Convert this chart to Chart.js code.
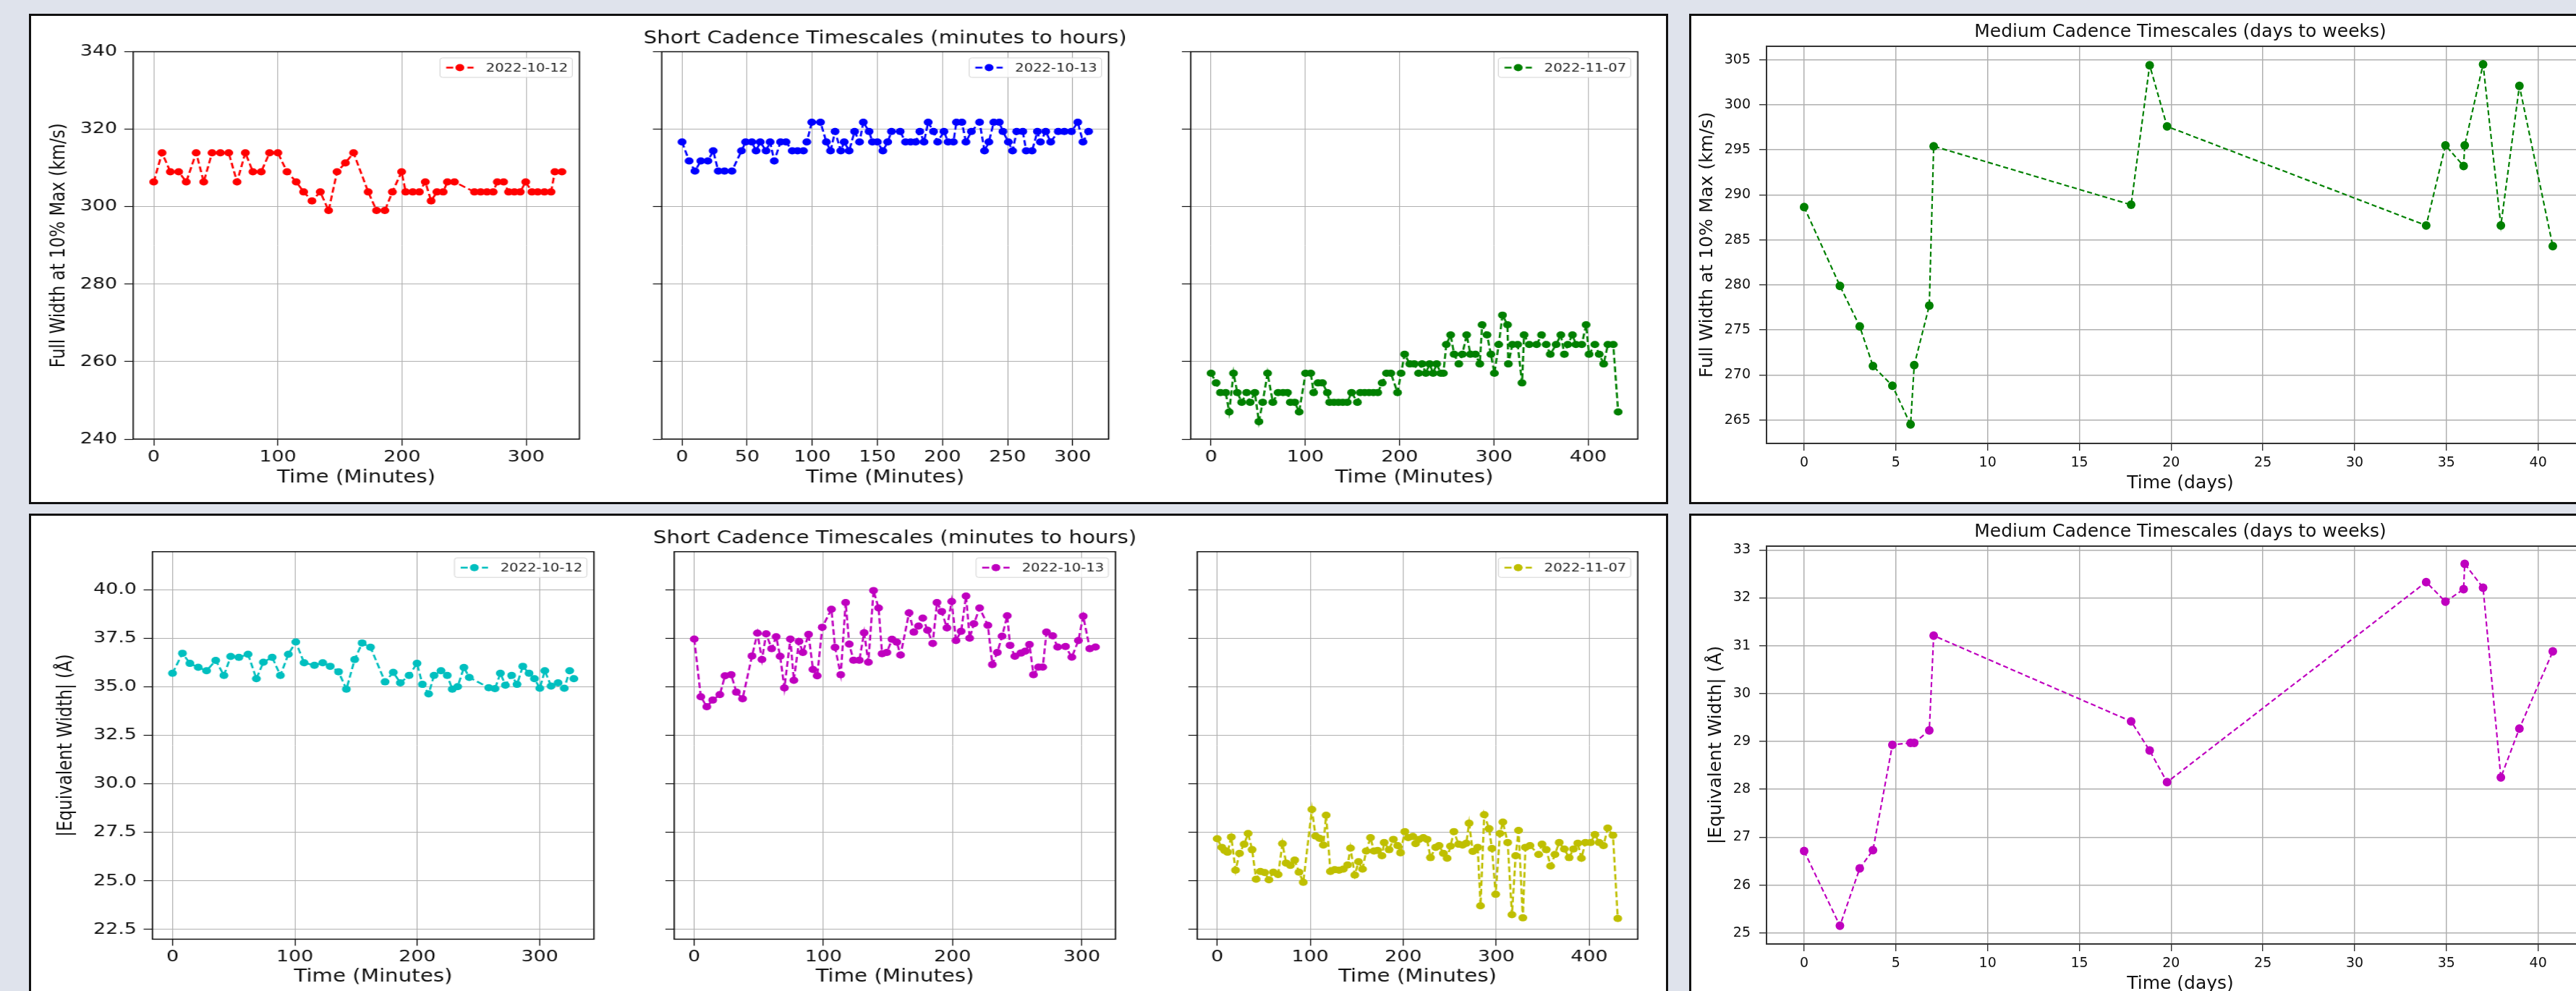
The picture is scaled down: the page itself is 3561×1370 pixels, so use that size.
<!DOCTYPE html>
<html><head><meta charset="utf-8">
<script src="https://cdn.jsdelivr.net/npm/chart.js@4.4.1/dist/chart.umd.min.js"></script>
<style>
html,body{margin:0;padding:0;width:3561px;height:1370px;overflow:hidden;background:#dfe3ec;position:relative;}
.panel{position:absolute;background:#fff;border:3px solid #111;box-sizing:border-box;}
.wrap{position:absolute;transform-origin:0 0;}
canvas{display:block;}
</style></head><body>
<div class="panel" style="left:40px;top:19px;width:2266px;height:678px"></div>
<div class="panel" style="left:40px;top:710px;width:2266px;height:720px"></div>
<div class="panel" style="left:2335px;top:19px;width:1320px;height:678px"></div>
<div class="panel" style="left:2335px;top:710px;width:1320px;height:720px"></div>
<script>
// ---------- labels ----------
const dates = ['2022-10-12', '2022-10-13', '2022-11-07'];
const shortTitle = 'Short Cadence Timescales (minutes to hours)';
const mediumTitle = 'Medium Cadence Timescales (days to weeks)';
const fwLabel = 'Full Width at 10% Max (km/s)';
const ewLabel = '|Equivalent Width| (Å)';
const minLabel = 'Time (Minutes)';
const dayLabel = 'Time (days)';

// ---------- tick values ----------
const fwTicks = [240, 260, 280, 300, 320, 340];
const ewTicks = [22.5, 25.0, 27.5, 30.0, 32.5, 35.0, 37.5, 40.0];
const minTicks300 = [0, 100, 200, 300];
const minTicks50 = [0, 50, 100, 150, 200, 250, 300];
const minTicks400 = [0, 100, 200, 300, 400];
const dayTicks = [0, 5, 10, 15, 20, 25, 30, 35, 40];
const medFwTicks = [265, 270, 275, 280, 285, 290, 295, 300, 305];
const medEwTicks = [25, 26, 27, 28, 29, 30, 31, 32, 33];

// ---------- short cadence: FW10%M ----------
const tFw1012 = [0,6.7,13.4,20.1,26.2,34.2,40.3,47,53.7,60.4,67.1,73.8,79.9,86.6,93.3,100,107.4,114.8,120.8,127.5,134.2,140.9,147.7,154.4,161,172.8,179.5,186.2,192.3,199.7,203,208.7,214,218.8,223.5,228.2,233.2,236.6,242.3,258.4,263.4,268.5,273.5,276.8,281.9,285.9,290.6,295.3,299.7,304.7,309.4,314.8,320.1,323.2,328.9];
const fw1012 = [306.4,313.9,309,309,306.4,313.9,306.4,313.9,313.9,313.9,306.4,313.9,309,309,313.9,313.9,309,306.4,303.8,301.5,303.8,299,309,311.3,313.9,303.8,299,299,303.8,309,303.8,303.8,303.8,306.4,301.5,303.8,303.8,306.4,306.4,303.8,303.8,303.8,303.8,306.4,306.4,303.8,303.8,303.8,306.4,303.8,303.8,303.8,303.8,309,309];

const tFw1013 = [0,5.4,9.9,14.4,19.8,23.9,27.8,32.6,38.3,45.6,48.8,53.6,56.8,60,64.5,67.6,70.8,75.6,79.8,84.6,88.7,93.2,95.8,99.6,106.3,110.8,114,117.5,121.9,124.5,128.3,132.5,136.3,139.2,143.6,146.2,150,154.2,157.9,160.8,167.5,171.6,175.5,179.4,182.6,185.8,189,193.1,196.3,201.1,204.3,208.4,210.7,214.9,218,222.2,228.5,232.3,235.6,239.4,243.6,246.4,250.6,253.8,257,261.7,264.3,268.8,272.9,275.2,279.3,283.1,288.9,293.6,299.1,303.9,307.9,312.2];
const fw1013 = [316.7,311.8,309.2,311.8,311.8,314.4,309.2,309.2,309.2,314.4,316.7,316.7,314.4,316.7,314.4,316.7,311.8,316.7,316.7,314.4,314.4,314.4,316.7,321.8,321.8,316.7,314.4,319.4,314.4,316.7,314.4,319.4,316.7,321.8,319.4,316.7,316.7,314.4,316.7,319.4,319.4,316.7,316.7,316.7,319.4,316.7,321.8,319.4,316.7,319.4,316.7,316.7,321.8,321.8,316.7,319.4,321.8,314.4,316.7,321.8,321.8,319.4,316.7,314.4,319.4,319.4,314.4,314.4,319.4,316.7,319.4,316.7,319.4,319.4,319.4,321.8,316.7,319.4];

const tFw1107 = [0,5.3,9.9,15.5,19.2,23.8,27.8,32.5,37.7,41.4,46.4,50.7,54.7,59.9,65.5,71.1,76.4,81,84.1,88.7,93.4,100.2,105.7,108.8,113.4,118.1,123.3,125.8,130.4,135.1,139.7,144.4,149,155.2,158.3,162.9,167.5,172.2,176.8,181.5,186.1,190.7,197.8,201.5,205.3,210.8,215.5,220.1,223.8,227.8,231.8,235.5,239.3,243.6,246.4,249.5,254.1,257.8,262.8,266.5,271.1,275.1,280.4,285,287.5,292.7,296.8,300.5,305.1,309.1,314.4,315.3,319.6,325.2,329.8,332,337.5,345.3,350.5,355.5,359.8,366,371,374.7,378.4,383.3,387,393.2,397.8,400.9,407.1,411.7,416.4,420.9,426.6,431.8];
const fw1107 = [257,254.5,252,252,247,257,252,249.5,252,249.5,252,244.5,249.5,257,249.5,252,252,252,249.5,249.5,247,257,257,252,254.5,254.5,252,249.5,249.5,249.5,249.5,249.5,252,249.5,252,252,252,252,252,254.5,257,257,252,257,261.9,259.4,259.4,257,259.4,257,259.4,257,259.4,257,257,264.4,266.9,261.9,259.4,261.9,266.9,261.9,261.9,259.4,269.5,266.9,261.9,257,264.4,272,269.5,259.4,264.4,264.4,254.5,266.9,264.4,264.4,266.9,264.4,261.9,264.4,266.9,261.9,264.4,266.9,264.4,264.4,269.5,261.9,264.4,261.9,259.4,264.4,264.4,247];

// ---------- short cadence: |EW| ----------
const tEw1012 = [0,8.1,14.2,21,27.8,35.3,42,47.5,54.2,61.7,68.5,74.2,81.4,88.1,94.6,100.7,107.5,115.9,122.7,128.8,135.6,142,148.8,154.9,161.7,173.6,180.3,186.1,193.2,199.7,204.1,209.2,213.6,219.3,224.4,228.5,232.9,238,242.4,258.3,263.4,267.8,271.9,277,281.4,286.1,291.2,295.6,300,304.1,309.2,314.9,320,324.4,327.8];
const ew1012 = [35.69,36.72,36.2,36.0,35.82,36.35,35.58,36.56,36.51,36.67,35.41,36.26,36.51,35.58,36.67,37.3,36.23,36.1,36.23,36.05,35.77,34.87,36.4,37.25,37.03,35.25,35.74,35.2,35.58,36.2,35.12,34.63,35.58,35.82,35.58,34.87,35.0,35.99,35.48,34.95,34.9,35.69,35.08,35.58,35.12,36.05,35.69,35.41,34.92,35.82,35.03,35.2,34.92,35.82,35.41];

const tEw1013 = [0,5.1,9.7,14.3,19.8,23.8,28.6,32.6,37.4,44.7,48.9,52.4,55.7,59.9,63.4,66.5,69.8,74.4,77.1,81.1,84.1,88.5,91.9,95.2,99.1,106.2,109,113.4,117.2,120,123.3,127.8,131.5,134.8,138.8,142.7,145.4,149.1,153.1,156.8,159.7,166.3,170,173.6,176.9,180.6,184.6,187.9,191.6,195.6,199.3,202.6,206.6,210.4,213.2,216.5,220.9,227.3,230.8,234.6,238.3,242.3,244.5,248.2,252.9,256.2,259.5,262.6,266.5,269.8,272.7,277.5,281.3,287.4,292.3,297.4,301.1,306.2,310.6];
const ew1013 = [37.45,34.48,33.97,34.31,34.59,35.56,35.62,34.72,34.38,36.58,37.76,36.4,37.72,36.96,37.57,36.57,34.94,37.45,35.33,37.33,36.76,37.69,35.89,35.56,38.06,38.99,37.02,35.62,39.33,37.19,36.36,36.36,37.78,36.26,39.95,39.05,36.7,36.76,37.44,37.29,36.63,38.8,37.81,38.12,38.53,37.91,37.23,39.33,38.87,38.03,39.39,37.38,37.85,39.67,37.5,38.24,39.05,38.16,36.14,36.76,37.6,38.65,37.13,36.57,36.73,36.83,37.17,35.62,36.01,36.01,37.81,37.62,37.04,37.07,36.52,37.38,38.63,36.96,37.04];

const tEw1107 = [0,4.9,8,11.1,15.1,19.7,24,28.9,33.2,37.5,41.8,46.4,51,55.6,60.3,65.5,70.1,74.1,78.7,83.3,87.9,92.5,101.8,105.7,110.1,114.1,117.1,121.7,126.3,131,135.6,140.2,143.3,147.9,151.9,156.2,160.2,164.8,168.5,172.5,177.1,179.5,184.8,189.4,194,197.1,201.7,205.3,210.3,213.3,217,221.6,225.6,229.3,234.9,238.5,243.2,247.2,250.8,254.5,259.5,263.8,267.8,270.8,274.8,280.1,283.1,287.1,292.3,295.4,299.4,304,307.1,312.3,316.9,320.9,324,328.6,331.4,336.3,345.6,349.2,353.8,358.5,363.1,367.7,373.2,378.4,383,387.7,391.6,395.9,401.5,406.1,410.7,415.3,419.9,425.5,430.7];
const ew1107 = [27.17,26.73,26.57,26.48,27.26,25.55,26.42,26.89,27.44,26.61,25.09,25.49,25.43,25.06,25.45,25.33,26.92,25.92,25.8,26.07,25.45,24.93,28.68,27.31,27.19,26.85,28.38,25.49,25.58,25.55,25.61,25.82,26.69,25.3,25.99,25.61,26.54,27.23,26.54,26.57,26.3,26.98,26.61,27.14,26.82,26.45,27.54,27.23,27.29,26.92,27.14,27.23,27.14,26.2,26.73,26.82,26.42,26.17,26.79,27.54,26.89,26.85,26.94,27.97,26.52,26.73,23.72,28.41,27.69,26.67,24.31,27.44,28.03,26.98,23.26,26.3,27.6,23.1,26.73,26.82,26.36,26.89,26.61,25.77,26.36,26.98,26.64,26.2,26.64,26.94,26.17,26.98,26.98,27.39,26.98,26.82,27.72,27.35,23.07];

// ---------- medium cadence ----------
const medDays = [0,1.95,3.03,3.75,4.81,5.8,6.0,6.82,7.06,17.82,18.83,19.78,33.9,34.95,35.94,36.0,37.0,37.97,38.98,40.8];
const medFw = [288.65,279.9,275.4,271.0,268.8,264.5,271.1,277.7,295.4,288.9,304.4,297.6,286.6,295.5,293.2,295.5,304.5,286.6,302.1,284.3];
const medEw = [26.71,25.15,26.35,26.73,28.93,28.97,28.97,29.23,31.21,29.42,28.81,28.15,32.33,31.92,32.18,32.71,32.21,28.25,29.27,30.88];

// ---------- drawing ----------
const FONT = "'DejaVu Sans', 'Liberation Sans', sans-serif";
const GRID = '#b0b0b0';
const INK = '#111';

function addChart(c) {
  const f = c.f || 1;
  const W = Math.round((c.pageR - c.pageL) / f);
  const H = c.pageB - c.pageT;
  const wrap = document.createElement('div');
  wrap.className = 'wrap';
  wrap.style.left = c.pageL + 'px';
  wrap.style.top = c.pageT + 'px';
  wrap.style.width = W + 'px';
  wrap.style.height = H + 'px';
  wrap.style.transform = 'scaleX(' + f + ')';
  const cv = document.createElement('canvas');
  cv.width = W; cv.height = H;
  cv.style.width = W + 'px'; cv.style.height = H + 'px';
  wrap.appendChild(cv);
  document.body.appendChild(wrap);
  const li = (c.plot.l - c.pageL) / f, ri = (c.plot.r - c.pageL) / f;
  const ti = c.plot.t - c.pageT, bi = c.plot.b - c.pageT;

  const deco = {
    id: 'deco',
    afterDraw(chart) {
      const ctx = chart.ctx, a = chart.chartArea;
      ctx.save();
      ctx.setLineDash([]);
      ctx.strokeStyle = c.spineColor; ctx.lineWidth = c.spineW;
      ctx.strokeRect(a.left, a.top, a.right - a.left, a.bottom - a.top);
      ctx.fillStyle = INK;
      ctx.textAlign = 'center'; ctx.textBaseline = 'middle';
      if (c.title) {
        ctx.font = c.titleSize + 'px ' + FONT;
        ctx.fillText(c.title, (a.left + a.right) / 2, c.titleY - c.pageT);
      }
      if (c.xlabel) {
        ctx.font = c.xlabelSize + 'px ' + FONT;
        ctx.fillText(c.xlabel, (a.left + a.right) / 2, c.xlabelY - c.pageT);
      }
      if (c.ylabel) {
        ctx.save();
        ctx.font = c.ylabelSize + 'px ' + FONT;
        ctx.translate((c.ylabelX - c.pageL) / f, (a.top + a.bottom) / 2);
        ctx.rotate(-Math.PI / 2);
        ctx.fillText(c.ylabel, 0, 0);
        ctx.restore();
      }
      if (c.legend) {
        const bw = 150, bh = 27;
        const bx = a.right - 8 - bw, by = a.top + 8.5;
        ctx.beginPath();
        ctx.roundRect(bx, by, bw, bh, 3);
        ctx.fillStyle = 'rgba(255,255,255,0.85)'; ctx.fill();
        ctx.strokeStyle = '#d4d4d4'; ctx.lineWidth = 1; ctx.stroke();
        const cy = by + bh / 2;
        ctx.strokeStyle = c.color; ctx.lineWidth = c.lw; ctx.setLineDash(c.dash);
        ctx.beginPath(); ctx.moveTo(bx + 7, cy); ctx.lineTo(bx + 38, cy); ctx.stroke();
        ctx.setLineDash([]);
        ctx.fillStyle = c.color;
        ctx.beginPath(); ctx.arc(bx + 22.5, cy, c.r, 0, Math.PI * 2); ctx.fill();
        ctx.fillStyle = '#222'; ctx.font = '16px ' + FONT;
        ctx.textAlign = 'left';
        ctx.fillText(c.label, bx + 52, cy + 1);
      }
      ctx.restore();
    }
  };

  const gridCfg = (tl) => ({ color: GRID, lineWidth: c.gridW, drawTicks: true, tickLength: tl, tickColor: INK, tickWidth: c.tickW });
  new Chart(cv, {
    type: 'line',
    data: { datasets: [{
      label: c.label,
      data: c.xs.map((x, i) => ({ x: x, y: c.ys[i] })),
      borderColor: c.color, backgroundColor: c.color,
      borderWidth: c.lw, borderDash: c.dash,
      pointRadius: c.r, pointHoverRadius: c.r, pointBorderWidth: 0,
      pointBackgroundColor: c.color, fill: false, tension: 0
    }] },
    options: {
      responsive: false, animation: false, devicePixelRatio: 1, events: [],
      layout: { padding: { left: 0, top: ti, right: W - ri, bottom: 0 } },
      plugins: { legend: { display: false }, tooltip: { enabled: false }, title: { display: false } },
      scales: {
        x: {
          type: 'linear', min: c.xMin, max: c.xMax,
          afterBuildTicks: s => { s.ticks = c.xTicks.map(v => ({ value: v })); },
          afterFit: s => { s.height = H - bi; },
          grid: gridCfg(c.xTickLen), border: { display: false },
          ticks: { autoSkip: false, maxRotation: 0, minRotation: 0, padding: c.xPad, color: INK,
                   font: { family: FONT, size: c.tickSize }, callback: v => String(v) }
        },
        y: {
          type: 'linear', min: c.yMin, max: c.yMax,
          afterBuildTicks: s => { s.ticks = c.yTicks.map(v => ({ value: v })); },
          afterFit: s => { s.width = li; },
          grid: gridCfg(c.yTickLen), border: { display: false },
          ticks: { autoSkip: false, padding: c.yPad, color: INK,
                   font: { family: FONT, size: c.tickSize },
                   callback: v => c.showY ? c.yFmt(v) : '' }
        }
      }
    },
    plugins: [deco]
  });
}

const shortBase = {
  f: 1.22, tickSize: 22, titleSize: 24, xlabelSize: 24, ylabelSize: 23,
  lw: 2.4, dash: [8, 4], r: 5, spineColor: INK, spineW: 1.5, gridW: 1, tickW: 1.2,
  xTickLen: 9, yTickLen: 10, xPad: 3, yPad: 8, legend: true, xlabel: minLabel
};
const topRow = { pageT: 23, pageB: 692, yMin: 240, yMax: 340, yTicks: fwTicks, yFmt: v => String(v), xlabelY: 661 };
const botRow = { pageT: 714, pageB: 1370, yMin: 22.0, yMax: 41.95, yTicks: ewTicks, yFmt: v => v.toFixed(1), xlabelY: 1351 };

// top-left panel (FW10%M, short cadence)
addChart(Object.assign({}, shortBase, topRow, {
  pageL: 44, pageR: 840, plot: { l: 184, r: 801, t: 71.5, b: 607 },
  xs: tFw1012, ys: fw1012, label: dates[0], color: '#ff0000',
  xMin: -16.6, xMax: 343, xTicks: minTicks300, showY: true, ylabel: fwLabel, ylabelX: 81.5
}));
addChart(Object.assign({}, shortBase, topRow, {
  pageL: 845, pageR: 1600, plot: { l: 914.8, r: 1532.5, t: 71.5, b: 607 },
  xs: tFw1013, ys: fw1013, label: dates[1], color: '#0000ff',
  xMin: -15.6, xMax: 327.6, xTicks: minTicks50, showY: false, title: shortTitle, titleY: 54
}));
addChart(Object.assign({}, shortBase, topRow, {
  pageL: 1590, pageR: 2298, plot: { l: 1646, r: 2264, t: 71.5, b: 607 },
  xs: tFw1107, ys: fw1107, label: dates[2], color: '#008000',
  xMin: -21.6, xMax: 452.6, xTicks: minTicks400, showY: false
}));

// bottom-left panel (|EW|, short cadence)
addChart(Object.assign({}, shortBase, botRow, {
  pageL: 44, pageR: 860, plot: { l: 210.7, r: 821, t: 762.7, b: 1298.4 },
  xs: tEw1012, ys: ew1012, label: dates[0], color: '#00bfbf',
  xMin: -16.4, xMax: 344.2, xTicks: minTicks300, showY: true, ylabel: ewLabel, ylabelX: 92
}));
addChart(Object.assign({}, shortBase, botRow, {
  pageL: 865, pageR: 1600, plot: { l: 932, r: 1542, t: 762.7, b: 1298.4 },
  xs: tEw1013, ys: ew1013, label: dates[1], color: '#bf00bf',
  xMin: -15.5, xMax: 326.1, xTicks: minTicks300, showY: false, title: shortTitle, titleY: 745
}));
addChart(Object.assign({}, shortBase, botRow, {
  pageL: 1600, pageR: 2298, plot: { l: 1655, r: 2264, t: 762.7, b: 1298.4 },
  xs: tEw1107, ys: ew1107, label: dates[2], color: '#bfbf00',
  xMin: -21.5, xMax: 452.2, xTicks: minTicks400, showY: false
}));

// right panels (medium cadence)
const medBase = {
  f: 1, tickSize: 19, titleSize: 25, xlabelSize: 25, ylabelSize: 25,
  lw: 2.2, dash: [7, 4], r: 6, spineColor: '#333', spineW: 2, gridW: 1.5, tickW: 1.2,
  xTickLen: 10, yTickLen: 10, xPad: 6, yPad: 12, legend: false,
  xlabel: dayLabel, title: mediumTitle, showY: true, yFmt: v => String(v),
  pageL: 2339, pageR: 3650, xs: medDays, xMin: -2.05, xMax: 43.05, xTicks: dayTicks
};
addChart(Object.assign({}, medBase, {
  pageT: 23, pageB: 692, plot: { l: 2442, r: 3586, t: 64, b: 613 },
  ys: medFw, label: 'FW10%M', color: '#008000',
  yMin: 262.4, yMax: 306.5, yTicks: medFwTicks, titleY: 44, xlabelY: 668,
  ylabel: fwLabel, ylabelX: 2360
}));
addChart(Object.assign({}, medBase, {
  pageT: 714, pageB: 1420, plot: { l: 2442, r: 3586, t: 755, b: 1305 },
  ys: medEw, label: '|EW|', color: '#bf00bf',
  yMin: 24.77, yMax: 33.08, yTicks: medEwTicks, titleY: 735, xlabelY: 1360,
  ylabel: ewLabel, ylabelX: 2372
}));
</script>
</body></html>
